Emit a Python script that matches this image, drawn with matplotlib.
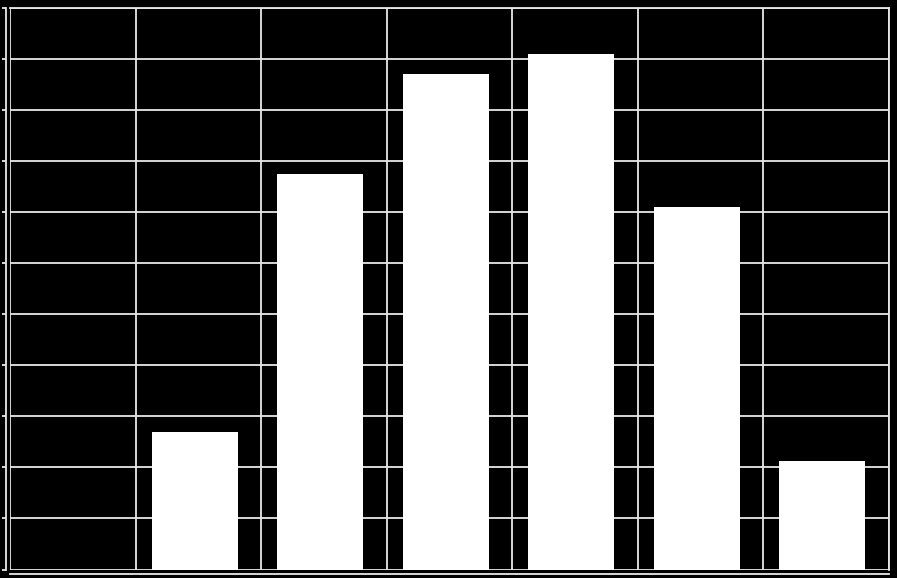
import matplotlib
matplotlib.use("Agg")
import matplotlib.pyplot as plt
import numpy as np

categories = ["", "1", "2", "3", "4", "5", "6"]
values = [0, 2.7, 7.75, 9.7, 10.1, 7.1, 2.12]
y_ticks = list(range(0, 12))

fig = plt.figure(figsize=(8.97, 5.78), dpi=100, facecolor="black")
ax = fig.add_axes([10 / 897, 8.5 / 578, 879 / 897, 561.5 / 578], facecolor="black")

x = np.arange(len(categories))
ax.bar(x - 0.03, values, width=0.685, color="white", edgecolor="none", zorder=3)

ax.set_xlim(-0.5, len(categories) - 0.5)
ax.set_ylim(0, 11)
ax.set_yticks(y_ticks)
ax.set_xticks(np.arange(-0.5, len(categories), 1.0))
ax.grid(True, color="#e8e8e8", linewidth=1.3, zorder=1)
ax.tick_params(axis="x", length=0, labelbottom=False)
ax.tick_params(axis="y", length=3, width=1.3, color="#e8e8e8", direction="out", labelleft=False)

for side in ["top", "right"]:
    ax.spines[side].set_color("#e8e8e8")
    ax.spines[side].set_linewidth(1.3)
for side in ["left", "bottom"]:
    ax.spines[side].set_color("#e8e8e8")
    ax.spines[side].set_linewidth(1.3)
    ax.spines[side].set_position(("outward", 3))

fig.savefig("out.png", dpi=100, facecolor="black")
